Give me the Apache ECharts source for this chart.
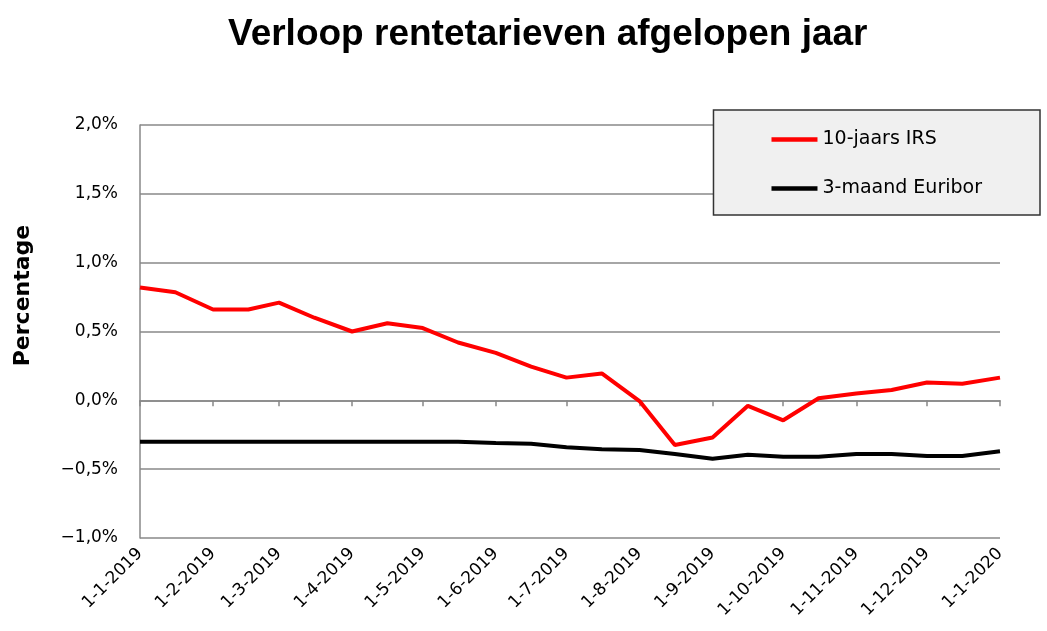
<!DOCTYPE html>
<html>
<head>
<meta charset="utf-8">
<script src="https://cdn.jsdelivr.net/npm/echarts@6/dist/echarts.min.js"></script>
<style>html,body{margin:0;padding:0;background:#fff;}#c{width:1047px;height:631px;}</style>
</head>
<body>
<div id="c"></div>
<script>
const dates = ['2019-01-01','2019-01-16','2019-02-01','2019-02-16','2019-03-01','2019-03-16','2019-04-01','2019-04-16','2019-05-01','2019-05-16','2019-06-01','2019-06-16','2019-07-01','2019-07-16','2019-08-01','2019-08-16','2019-09-01','2019-09-16','2019-10-01','2019-10-16','2019-11-01','2019-11-16','2019-12-01','2019-12-16','2020-01-01'];
const irs = [0.82,0.785,0.66,0.66,0.71,0.60,0.50,0.56,0.525,0.42,0.345,0.245,0.165,0.195,-0.005,-0.325,-0.27,-0.04,-0.145,0.015,0.05,0.075,0.13,0.12,0.165];
const euribor = [-0.30,-0.30,-0.30,-0.30,-0.30,-0.30,-0.30,-0.30,-0.30,-0.30,-0.31,-0.315,-0.34,-0.355,-0.36,-0.39,-0.425,-0.395,-0.41,-0.41,-0.39,-0.39,-0.405,-0.405,-0.37];
const monthTicks = ['2019-01-01','2019-02-01','2019-03-01','2019-04-01','2019-05-01','2019-06-01','2019-07-01','2019-08-01','2019-09-01','2019-10-01','2019-11-01','2019-12-01','2020-01-01'];
const seriesNames = ['10-jaars IRS','3-maand Euribor'];
const titleText = 'Verloop rentetarieven afgelopen jaar';
const yName = 'Percentage';

const chart = echarts.init(document.getElementById('c'));
const ts = d => echarts.number.parseDate(d).getTime();
const tickVals = monthTicks.map(ts);
const fmtDate = v => { const d = new Date(v); return d.getDate() + '-' + (d.getMonth()+1) + '-' + d.getFullYear(); };
const pairs = arr => dates.map((d,i) => [ts(d), arr[i]]);
const xCommon = {
  type: 'value', min: tickVals[0], max: tickVals[tickVals.length-1], scale: true,
  splitLine: {show:false}
};
chart.setOption({
  animation: false,
  title: { text: titleText, left: 223, top: 11,
    textStyle: { fontFamily: 'Liberation Sans', fontWeight: 'bold', fontSize: 37, color: '#000' } },
  grid: { left: 140, right: 47, top: 125, bottom: 93, containLabel: false },
  legend: {
    right: 7, top: 110, orient: 'vertical',
    backgroundColor: '#f0f0f0', borderColor: '#333', borderWidth: 1.5,
    padding: [20, 58, 17, 58], itemGap: 30, itemWidth: 46, itemHeight: 14,
    textStyle: { fontFamily: 'DejaVu Sans', fontSize: 19, color: '#000', padding: [0,0,0,0] },
    data: seriesNames.map(n => ({ name: n, icon: 'path://M0,0H10V1H0Z' }))
  },
  xAxis: [
    Object.assign({}, xCommon, {
      axisLine: { onZero: true, lineStyle: { color: '#888', width: 1.5 } },
      axisTick: { show: true, inside: false, length: 6, customValues: tickVals, lineStyle: { color: '#888', width: 1.5 } },
      axisLabel: { show: false }
    }),
    Object.assign({}, xCommon, {
      position: 'bottom', offset: 0,
      axisLine: { show: false, onZero: false },
      axisTick: { show: false },
      axisLabel: { show: true, rotate: 45, margin: 13, fontFamily: 'DejaVu Sans', fontSize: 17, color: '#000',
        customValues: tickVals, showMinLabel: true, showMaxLabel: true, hideOverlap: false,
        formatter: v => fmtDate(v) }
    })
  ],
  yAxis: {
    type: 'value', min: -1, max: 2, interval: 0.5,
    name: yName, nameLocation: 'middle', nameGap: 106, nameRotate: 90,
    nameTextStyle: { fontFamily: 'DejaVu Sans', fontWeight: 'bold', fontSize: 22, color: '#000', padding: [0,0,0,72] },
    axisLine: { show: true, lineStyle: { color: '#888', width: 1.5 } },
    axisTick: { show: false },
    axisLabel: { margin: 22, fontFamily: 'DejaVu Sans', fontSize: 17, color: '#000',
      formatter: v => v.toFixed(1).replace('.', ',').replace('-', '\u2212') + '%' },
    splitLine: { show: true, lineStyle: { color: '#888', width: 1.5 } }
  },
  series: [
    { name: seriesNames[0], type: 'line', xAxisIndex: 0, data: pairs(irs), symbol: 'none',
      lineStyle: { color: '#ff0000', width: 4 }, itemStyle: { color: '#ff0000' } },
    { name: seriesNames[1], type: 'line', xAxisIndex: 0, data: pairs(euribor), symbol: 'none',
      lineStyle: { color: '#000', width: 4 }, itemStyle: { color: '#000' } }
  ]
});
</script>
</body>
</html>
